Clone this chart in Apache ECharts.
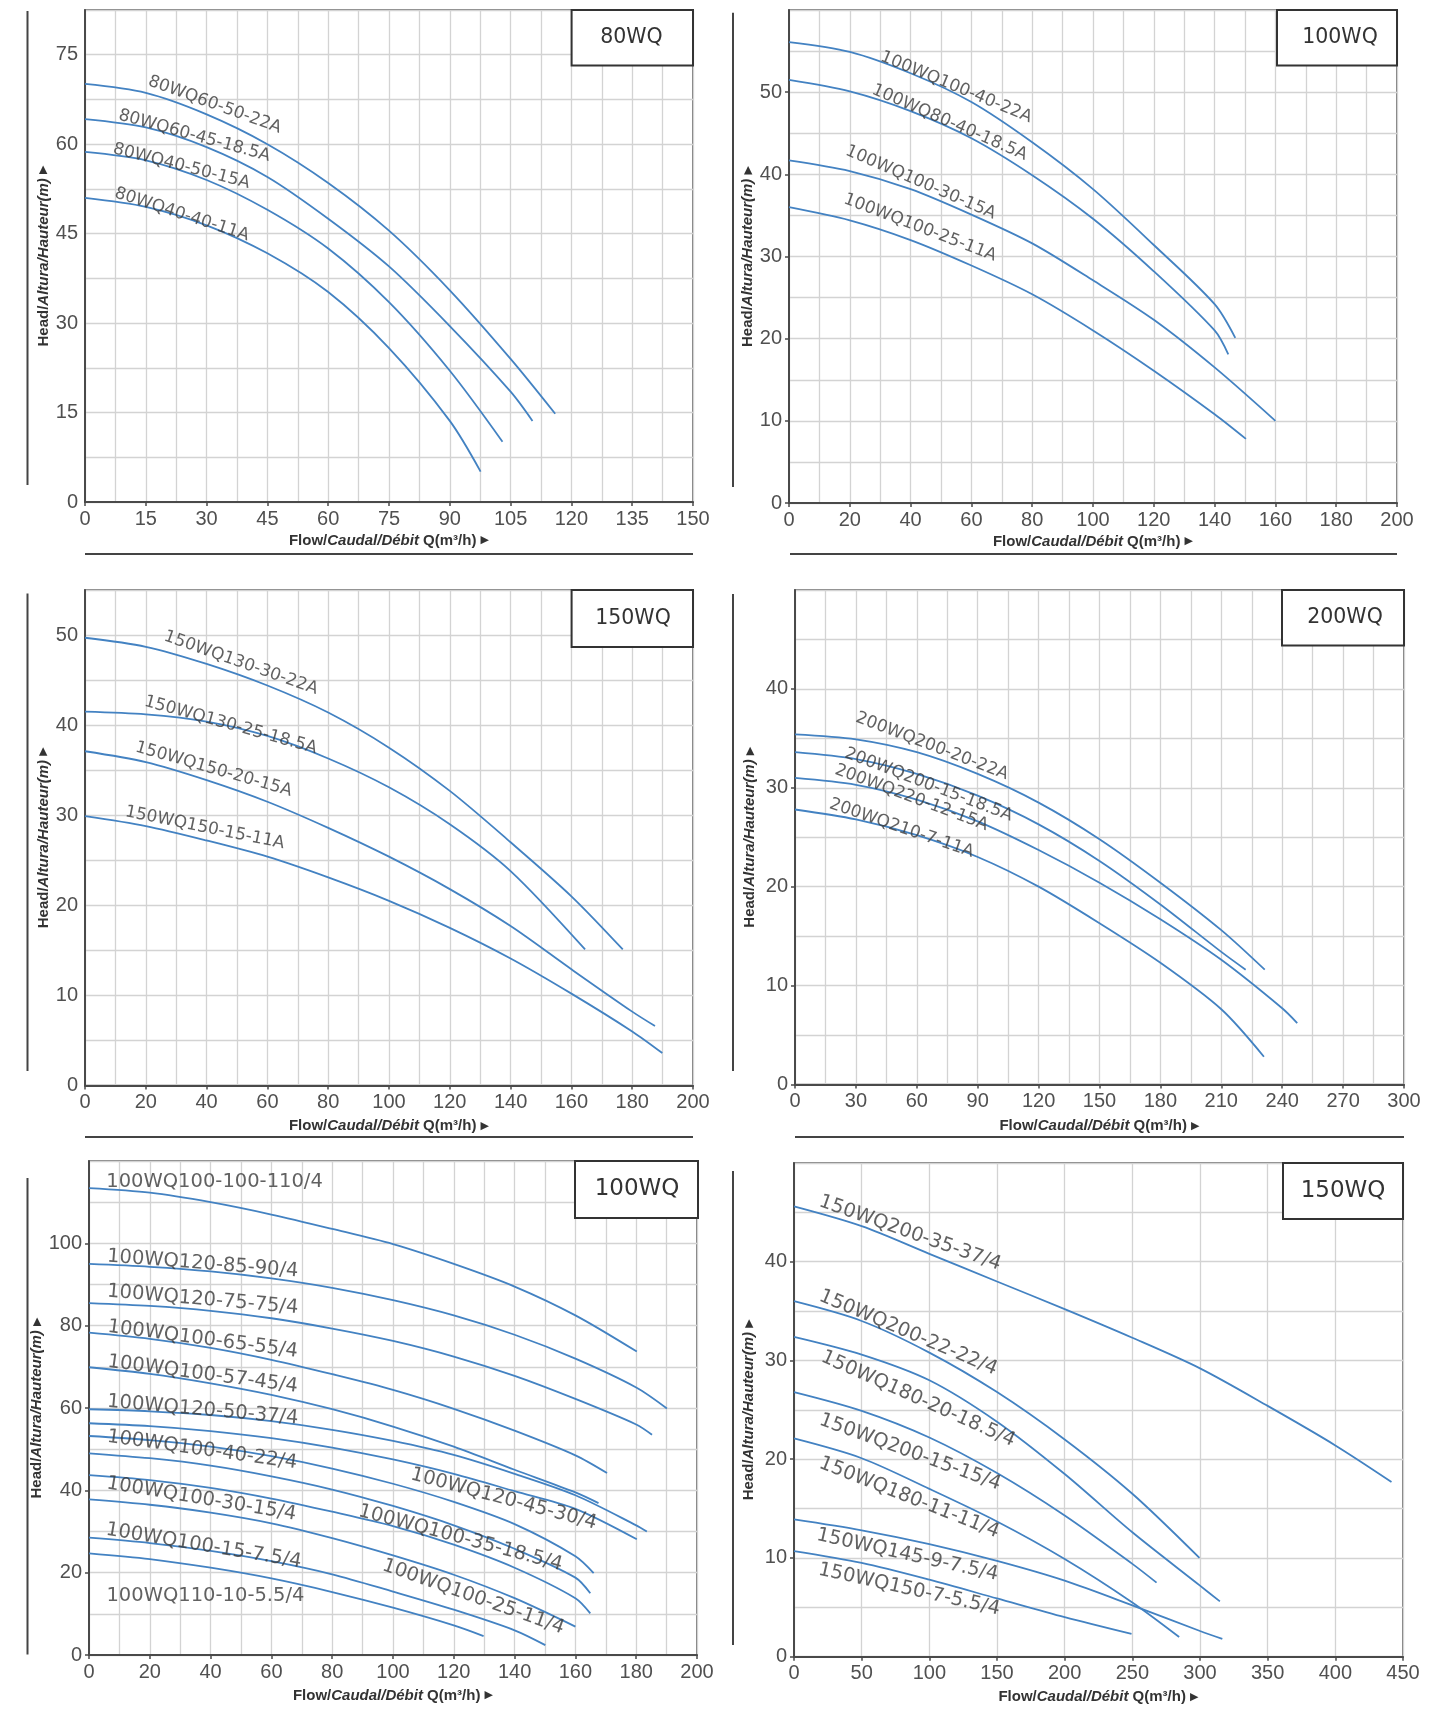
<!DOCTYPE html>
<html><head><meta charset="utf-8">
<script src="https://cdn.jsdelivr.net/npm/echarts@6/dist/echarts.min.js"></script>
<style>html,body{margin:0;padding:0;background:#fff}#c{width:1451px;height:1709px}</style>
</head><body><div id="c"></div>
<script>
// ---------------- DATA ----------------
// Panel 1 : 80WQ
const p1Title = '80WQ';
const p1Names = ['80WQ60-50-22A', '80WQ60-45-18.5A', '80WQ40-50-15A', '80WQ40-40-11A'];
const p1C1 = [[0,70.1],[15,68.6],[30,65],[45,60],[60,53.5],[75,45.5],[90,35.5],[105,24],[116,14.8]];
const p1C2 = [[0,64.2],[15,62.8],[30,59.5],[45,54.5],[60,47.5],[75,39.5],[90,29.5],[105,18.5],[110.4,13.6]];
const p1C3 = [[0,58.7],[15,57.3],[30,54],[45,49],[60,42.5],[75,33.5],[90,22],[103,10.1]];
const p1C4 = [[0,51],[15,49.5],[30,46.4],[45,41.7],[60,35.2],[75,25.8],[90,13.6],[97.6,5.1]];

// Panel 2 : 100WQ
const p2Title = '100WQ';
const p2Names = ['100WQ100-40-22A', '100WQ80-40-18.5A', '100WQ100-30-15A', '100WQ100-25-11A'];
const p2C1 = [[0,56.1],[20,54.9],[40,52.3],[60,48.8],[80,43.9],[100,38.2],[120,31.4],[140,24.2],[146.8,20.1]];
const p2C2 = [[0,51.5],[20,50.1],[40,47.7],[60,44.4],[80,39.9],[100,34.6],[120,28.2],[140,21],[144.5,18.1]];
const p2C3 = [[0,41.7],[20,40.4],[40,38.2],[60,35.1],[80,31.6],[100,27.1],[120,22.3],[140,16.5],[160,10]];
const p2C4 = [[0,36],[20,34.4],[40,32],[60,28.9],[80,25.4],[100,21],[120,16.1],[140,10.8],[150.3,7.8]];

// Panel 3 : 150WQ
const p3Title = '150WQ';
const p3Names = ['150WQ130-30-22A', '150WQ130-25-18.5A', '150WQ150-20-15A', '150WQ150-15-11A'];
const p3C1 = [[0,49.7],[20,48.7],[40,46.8],[60,44.4],[80,41.4],[100,37.5],[120,32.7],[140,27],[160,21],[176.9,15.1]];
const p3C2 = [[0,41.5],[20,41.2],[40,40.4],[60,38.8],[80,36.3],[100,33.1],[120,29],[140,23.8],[164.5,15.1]];
const p3C3 = [[0,37.1],[20,35.9],[40,33.9],[60,31.5],[80,28.6],[100,25.4],[120,21.8],[140,17.7],[160,12.9],[180,8.2],[187.5,6.6]];
const p3C4 = [[0,29.9],[20,28.8],[40,27.2],[60,25.4],[80,23.1],[100,20.5],[120,17.5],[140,14.1],[160,10.2],[180,6],[189.9,3.6]];

// Panel 4 : 200WQ
const p4Title = '200WQ';
const p4Names = ['200WQ200-20-22A', '200WQ200-15-18.5A', '200WQ220-12-15A', '200WQ210-7-11A'];
const p4C1 = [[0,35.4],[30,34.9],[60,33.6],[90,31.4],[120,28.5],[150,24.8],[180,20.4],[210,15.6],[231.4,11.6]];
const p4C2 = [[0,33.6],[30,32.9],[60,31.4],[90,29.2],[120,26.3],[150,22.6],[180,18.2],[210,13.4],[222,11.6]];
const p4C3 = [[0,31],[30,30.3],[60,28.8],[90,26.6],[120,23.7],[150,20.4],[180,16.7],[210,12.6],[240,7.7],[247.4,6.2]];
const p4C4 = [[0,27.8],[30,26.8],[60,25.2],[90,23],[120,20],[150,16.3],[180,12.3],[210,7.6],[231,2.8]];

// Panel 5 : 100WQ (4-pole)
const p5Title = '100WQ';
const p5Names = ['100WQ100-100-110/4', '100WQ120-85-90/4', '100WQ120-75-75/4', '100WQ100-65-55/4',
  '100WQ100-57-45/4', '100WQ120-50-37/4', '100WQ120-45-30/4', '100WQ100-40-22/4', '100WQ100-35-18.5/4',
  '100WQ100-30-15/4', '100WQ100-25-11/4', '100WQ100-15-7.5/4', '100WQ110-10-5.5/4'];
const p5C1 = [[0,113.4],[20,112.3],[40,110],[60,107],[80,103.5],[100,99.8],[120,95],[140,89.5],[160,82.5],[180.2,73.7]];
const p5C2 = [[0,95],[20,94.3],[40,93.2],[60,91.5],[80,89.2],[100,86.2],[120,82.5],[140,77.8],[160,72],[180,65],[190.1,59.9]];
const p5C3 = [[0,85.5],[20,84.8],[40,83.6],[60,81.8],[80,79.3],[100,76.3],[120,72.5],[140,67.8],[160,62.2],[180,56],[185.2,53.5]];
const p5C4 = [[0,78.3],[20,76.8],[40,74.6],[60,71.7],[80,68.2],[100,64.4],[120,59.8],[140,54.5],[160,48.5],[170.4,44.2]];
const p5C5 = [[0,69.9],[20,68.3],[40,66],[60,63.2],[80,59.7],[100,55.5],[120,50.6],[140,45],[160,39.5],[167.6,36.9]];
const p5C6 = [[0,59.7],[20,59.2],[40,58.3],[60,56.8],[80,54.7],[100,52],[120,48.6],[140,44],[160,38.8],[180,31.5],[183.5,30]];
const p5C7 = [[0,56.3],[20,55.6],[40,54.4],[60,52.7],[80,50.4],[100,47.5],[120,44],[140,39.8],[160,35.5],[180.2,28.1]];
const p5C8 = [[0,53.2],[20,52.2],[40,50.6],[60,48.3],[80,45.3],[100,41.6],[120,37.2],[140,31.8],[160,24],[166,19.9]];
const p5C9 = [[0,49],[20,47.8],[40,46],[60,43.4],[80,40.2],[100,36.2],[120,31.5],[140,25.8],[160,18.8],[164.9,15]];
const p5C10 = [[0,43.7],[20,42.5],[40,40.6],[60,38],[80,34.8],[100,31.3],[120,26.8],[140,21.2],[160,13.8],[164.9,10.1]];
const p5C11 = [[0,37.8],[20,36.5],[40,34.6],[60,32],[80,28.4],[100,24.2],[120,19.5],[140,13.8],[160,6.9]];
const p5C12 = [[0,28.5],[20,27.2],[40,25.3],[60,22.8],[80,19.6],[100,15.4],[120,11],[140,6],[150.1,2.4]];
const p5C13 = [[0,24.7],[20,23.3],[40,21.2],[60,18.6],[80,15.3],[100,11.5],[120,7.2],[129.8,4.6]];

// Panel 6 : 150WQ (4-pole)
const p6Title = '150WQ';
const p6Names = ['150WQ200-35-37/4', '150WQ200-22-22/4', '150WQ180-20-18.5/4', '150WQ200-15-15/4',
  '150WQ180-11-11/4', '150WQ145-9-7.5/4', '150WQ150-7-5.5/4'];
const p6C1 = [[0,45.6],[50,43.6],[100,40.8],[150,38],[200,35.2],[250,32.3],[300,29.2],[350,25.4],[400,21.4],[441.5,17.7]];
const p6C2 = [[0,36],[50,34],[100,30.8],[150,26.8],[200,22],[250,16.5],[299.6,10]];
const p6C3 = [[0,32.4],[50,30.6],[100,28],[150,23.8],[200,18.5],[250,12.6],[300,7.2],[314.7,5.6]];
const p6C4 = [[0,26.8],[50,24.9],[100,22.2],[150,18.6],[200,14.3],[250,9.4],[267.9,7.5]];
const p6C5 = [[0,22.1],[50,20.1],[100,17],[150,13.7],[200,9.9],[250,5.5],[284.6,2]];
const p6C6 = [[0,13.9],[50,12.8],[100,11.4],[150,9.7],[200,7.7],[250,5.2],[300,2.6],[316.5,1.8]];
const p6C7 = [[0,10.7],[50,9.5],[100,7.8],[150,5.9],[200,4],[249.4,2.3]];

// Axis tick settings: [max, grid step, label step]
const p1XTicks = [150, 7.5, 15],  p1YTicks = [82.5, 7.5, 15];
const p2XTicks = [200, 10, 20],   p2YTicks = [60, 5, 10];
const p3XTicks = [200, 10, 20],   p3YTicks = [55, 5, 10];
const p4XTicks = [300, 15, 30],   p4YTicks = [50, 5, 10];
const p5XTicks = [200, 10, 20],   p5YTicks = [120, 10, 20];
const p6XTicks = [450, 50, 50],   p6YTicks = [50, 5, 10];

// ---------------- LAYOUT (positions / styles only) ----------------
const layouts = [
  {grid:{left:85,top:10,width:608,height:492}, xGap:31, yGap:34, lbl:17, box:[571.6,10,121.4,55.4], boxFont:20.5, boxText:[631.5,38], vline:[27.5,11,485], hline:[554,85,693],
   labelAt:[[32,66.6,20],[27,61.4,15.5],[23.8,56.3,14.5],[23.9,48.2,18]]},
  {grid:{left:789,top:10,width:608,height:493}, xGap:31, yGap:32.5, lbl:17, box:[1277,10,120,55.4], boxFont:20.5, boxText:[1340,38], vline:[733,12.7,487], hline:[554,790,1397],
   labelAt:[[55,50.6,22.5],[52.8,46.3,23.5],[43.3,39,23.5],[43.1,33.5,21]]},
  {grid:{left:85,top:590,width:608,height:495.5}, xGap:33, yGap:34, lbl:17, box:[571.6,590,121.4,57], boxFont:20.5, boxText:[633,619], vline:[27.5,593.6,1071], hline:[1137,85,693],
   labelAt:[[51.3,46.9,19.5],[47.9,40,15.5],[42.3,35.1,16],[39.4,28.6,11.5]]},
  {grid:{left:795,top:590,width:609,height:494.4}, xGap:34, yGap:37.5, lbl:17, box:[1282,590,122,55.6], boxFont:20.5, boxText:[1345,618], vline:[733,594,1071], hline:[1137,795,1404],
   labelAt:[[67.5,34.2,21],[65.8,30.3,21],[57.4,29,20.5],[52.5,25.9,19]]},
  {grid:{left:89,top:1161,width:608,height:494}, xGap:33, yGap:35.5, lbl:19.5, box:[575,1161,123,57], boxFont:23, boxText:[637,1189], vline:[27.5,1178,1654.5], hline:null,
   labelAt:[[41.3,114.8,0],[37.4,95,4.5],[37.4,86.3,5],[37.4,76.7,7.5],[37.4,68.2,7.5],[37.4,59.5,5],[136.4,37.9,15],[37.2,49.8,8],[122.2,28.4,15],[37,37.9,9.5],[126.4,14.1,19.5],[37.7,26.5,9.5],[38.3,14.4,0]]},
  {grid:{left:794,top:1163,width:609,height:493.7}, xGap:33, yGap:37.5, lbl:19.5, box:[1283,1163,120,56], boxFont:23, boxText:[1343,1191], vline:[733,1171,1645], hline:null,
   labelAt:[[85.8,42.9,19.5],[84.4,32.8,23],[91.7,26.1,24],[85.7,20.7,20],[85.1,16.1,21.5],[83.8,10.3,12.5],[85.1,6.8,12.5]]}
];

const panels = [
  {title:p1Title, names:p1Names, curves:[p1C1,p1C2,p1C3,p1C4], xt:p1XTicks, yt:p1YTicks},
  {title:p2Title, names:p2Names, curves:[p2C1,p2C2,p2C3,p2C4], xt:p2XTicks, yt:p2YTicks},
  {title:p3Title, names:p3Names, curves:[p3C1,p3C2,p3C3,p3C4], xt:p3XTicks, yt:p3YTicks},
  {title:p4Title, names:p4Names, curves:[p4C1,p4C2,p4C3,p4C4], xt:p4XTicks, yt:p4YTicks},
  {title:p5Title, names:p5Names, curves:[p5C1,p5C2,p5C3,p5C4,p5C5,p5C6,p5C7,p5C8,p5C9,p5C10,p5C11,p5C12,p5C13], xt:p5XTicks, yt:p5YTicks},
  {title:p6Title, names:p6Names, curves:[p6C1,p6C2,p6C3,p6C4,p6C5,p6C6,p6C7], xt:p6XTicks, yt:p6YTicks}
];

const LINE_COLOR = '#4382c2';
const GRID_LINE = {color:'#d3d3d3', width:1.3};
const nameRich = {
  n:{fontFamily:'Liberation Sans', fontSize:15, fontWeight:'bold', color:'#333'},
  i:{fontFamily:'Liberation Sans', fontSize:15, fontWeight:'bold', fontStyle:'italic', color:'#333'},
  a:{fontFamily:'DejaVu Sans', fontSize:11, color:'#333'}
};

function isMult(v, s) { const q = v / s; return Math.abs(q - Math.round(q)) < 1e-6; }

function makeAxis(gi, ticks, isY, gap) {
  const [max, step, lab] = ticks;
  const exact = isMult(max, lab);
  const minorN = Math.round(lab / step);
  const ax = {
    type:'value', gridIndex:gi, min:0, max:max,
    position: isY ? 'left' : 'bottom',
    axisLine:{show:true, onZero:false, lineStyle:{color:'#4a4a4a', width:2}},
    splitLine:{show:true, lineStyle:GRID_LINE},
    axisLabel:{color:'#505050', fontFamily:'Liberation Sans', fontSize:20, margin:7,
               showMaxLabel: isY ? false : true, showMinLabel:true},
    nameLocation:'middle', nameGap:gap,
    name: isY ? '{n|Head/}{i|Altura/Hauteur(m)}{n| }{a|▶}' : '{n|Flow/}{i|Caudal/Débit}{n| Q(m³/h) }{a|▶}',
    nameTextStyle:{rich:nameRich}
  };
  if (exact) {
    ax.interval = lab;
    ax.axisTick = {show:true, length:4, lineStyle:{color:'#4a4a4a', width:1.5}};
    if (minorN > 1) {
      ax.minorTick = {show:false, splitNumber:minorN};
      ax.minorSplitLine = {show:true, lineStyle:GRID_LINE};
    }
  } else {
    ax.interval = step;
    ax.axisTick = {show:false};
    ax.axisLabel.formatter = v => (isMult(v, lab) ? String(v) : '');
  }
  return ax;
}

const grids = [], xAxes = [], yAxes = [], series = [], graphic = [];
panels.forEach((p, gi) => {
  const L = layouts[gi];
  grids.push(Object.assign({show:true, borderColor:'#555', borderWidth:1.5, backgroundColor:'transparent', containLabel:false}, L.grid));
  xAxes.push(makeAxis(gi, p.xt, false, L.xGap));
  yAxes.push(makeAxis(gi, p.yt, true, L.yGap));
  p.curves.forEach((c, ci) => {
    series.push({type:'line', name:p.names[ci], xAxisIndex:gi, yAxisIndex:gi, data:c,
      smooth:0.3, symbol:'none', silent:true, z:3,
      lineStyle:{color:LINE_COLOR, width:1.8}});
  });
  series.push({type:'scatter', xAxisIndex:gi, yAxisIndex:gi, symbolSize:0, silent:true, z:4,
    data: p.names.map((nm, k) => ({name:nm, value:[L.labelAt[k][0], L.labelAt[k][1]], label:{rotate:-L.labelAt[k][2]}})),
    label:{show:true, position:'inside', formatter:q => q.name, fontFamily:'DejaVu Sans',
      fontSize:L.lbl, color:'#3a3a3a', align:'center', verticalAlign:'middle'},
    labelLayout:{hideOverlap:false}
  });
  // decorations
  graphic.push({type:'rect', z:100, shape:{x:L.box[0], y:L.box[1], width:L.box[2], height:L.box[3]},
    style:{fill:'#fff', stroke:'#333', lineWidth:2}});
  graphic.push({type:'text', z:101, x:L.boxText[0], y:L.boxText[1],
    style:{text:p.title, font:L.boxFont + 'px "DejaVu Sans"', fill:'#333', align:'center', verticalAlign:'middle'}});
  graphic.push({type:'line', z:100, shape:{x1:L.vline[0], y1:L.vline[1], x2:L.vline[0], y2:L.vline[2]},
    style:{stroke:'#444', lineWidth:2}});
  if (L.hline) graphic.push({type:'line', z:100, shape:{x1:L.hline[1], y1:L.hline[0], x2:L.hline[2], y2:L.hline[0]},
    style:{stroke:'#444', lineWidth:2}});
});

const chart = echarts.init(document.getElementById('c'), null, {width:1451, height:1709});
chart.setOption({
  animation:false,
  backgroundColor:'#ffffff',
  textStyle:{fontFamily:'Liberation Sans'},
  grid:grids, xAxis:xAxes, yAxis:yAxes, series:series, graphic:graphic
});
</script>
</body></html>
